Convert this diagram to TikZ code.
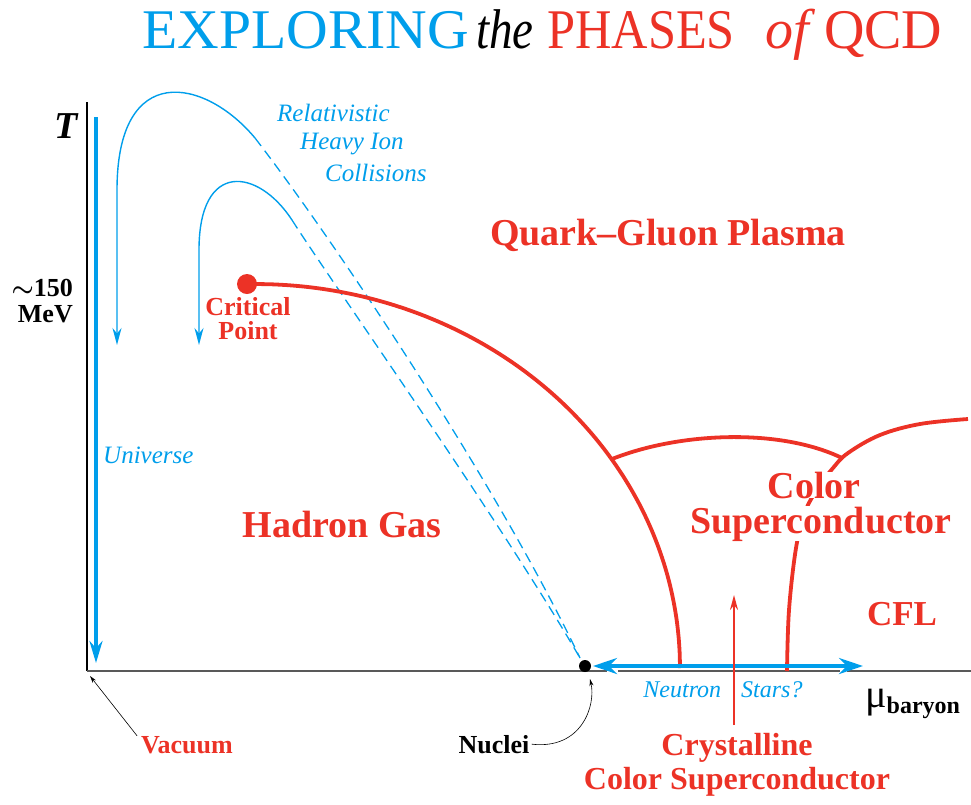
\documentclass[tikz,border=0pt]{standalone}
\usepackage{fontspec}
\setmainfont{Liberation Serif}
\usepackage{xcolor}
\usetikzlibrary{arrows.meta}
\definecolor{qcdred}{RGB}{236,50,38}
\definecolor{qcdblue}{RGB}{0,158,235}

\begin{document}
\begin{tikzpicture}[
x=1pt, y=-1pt,
traj/.style={qcdblue, line width=1.4pt},
trajdash/.style={qcdblue, line width=1.3pt, dash pattern=on 10pt off 6pt},
bound/.style={qcdred, line width=3.8pt},
phase/.style={qcdred, font=\fontsize{38}{38}\selectfont\bfseries, inner sep=0pt},
small/.style={font=\fontsize{26}{26}\selectfont\bfseries, inner sep=0pt},
blab/.style={qcdblue, font=\fontsize{25}{25}\selectfont\itshape, inner sep=0pt},
head/.style={font=\fontsize{56}{56}\selectfont, anchor=base west, inner sep=0pt},
arrow/.style={-{Stealth[length=17pt, width=9pt]}},
pointer/.style={-{Stealth[length=7pt, width=4pt]}, black, line width=0.6pt}
]
\useasboundingbox (0,0) rectangle (971,804);

% title
\node[head, qcdblue] (tw1) at (142,48) {\scalebox{1.03}[1]{EXPLORING}};
\node[head, font=\fontsize{56}{56}\selectfont\itshape] (tw2) at (476,48) {\scalebox{0.84}[1]{the}};
\node[head, qcdred] (tw3) at (547,48) {\scalebox{0.9}[1]{PHASES}};
\node[head, qcdred, font=\fontsize{56}{56}\selectfont\itshape] (tw4) at (765,48) {of};
\node[head, qcdred] (tw5) at (824,48) {QCD};

% axes
\coordinate (origin) at (87,671);
\coordinate (ttop) at (87,102);
\coordinate (mend) at (971,671);
\draw[line width=1.2pt] (ttop) -- (origin);
\draw[black!65, line width=2.6pt] (origin) -- (607,671) (618,671) -- (840,671) (847,671) -- (mend);
\node[font=\fontsize{38}{38}\selectfont\bfseries\itshape, anchor=base east, inner sep=0pt] (tlab) at (78,138) {T};
\node[small, anchor=base east] (tc) at (73,296) {{\boldmath$\sim$}150};
\node[small, anchor=base east] (mev) at (73,322) {MeV};
\node[anchor=base west, inner sep=0pt] (mub) at (865,707)
  {\fontsize{40}{40}\selectfont μ\raisebox{-6pt}{\fontsize{24}{24}\selectfont\bfseries baryon}};

% early universe
\coordinate (utop) at (96,117);
\coordinate (ubot) at (96,663);
\draw[qcdblue, line width=4pt, -{Stealth[length=22pt, width=13pt]}] (utop) -- (ubot);
\node[blab, anchor=base west] (univ) at (103,463) {Universe};

% heavy ion trajectories
\coordinate (nucend) at (580,658);
\coordinate (outa) at (255,138);
\coordinate (ina) at (292,220);
\draw[traj, arrow] (outa) .. controls (205,78) and (117,60) .. (117,190) -- (117,345);
\draw[trajdash] (outa) .. controls (330,235) and (495,480) .. (nucend);
\draw[traj, arrow] (ina) .. controls (258,168) and (199,160) .. (199,250) -- (199,345);
\draw[trajdash] (ina) .. controls (330,280) and (500,520) .. (nucend);
\node[blab, anchor=base west] (rhic1) at (277,121) {Relativistic};
\node[blab, anchor=base west] (rhic2) at (300,149) {Heavy Ion};
\node[blab, anchor=base west] (rhic3) at (325,181) {Collisions};

% phase boundaries
\draw[bound] plot[domain=90:0, samples=40, smooth] ({255+425*cos(\x)}, {668-384*sin(\x)});
\draw[bound] (612,459) .. controls (680,432) and (780,428) .. (842,458);
\draw[bound] plot[smooth, tension=0.6] coordinates {(787,671) (789,610) (796,548) (805,512) (818,488) (833,468) (848,453) (880,435) (920,424) (968,419)};
\node[circle, fill=qcdred, inner sep=0pt, minimum size=20pt] (critdot) at (247,284) {};
\node[small, qcdred, anchor=base, text depth=0pt] (crit1) at (248,315) {Critical};
\node[small, qcdred, anchor=base, text height=18pt] (crit2) at (248,339) {Point};

% phases
\node[phase, anchor=base] (qgp) at (668,245) {Quark\textendash Gluon Plasma};
\node[phase, anchor=base] (hadron) at (342,537) {Hadron Gas};
\node[phase, anchor=base, fill=white, text depth=0pt] (csc1) at (814,498) {Color};
\node[phase, anchor=base, fill=white, text height=27pt] (csc2) at (821,533) {Superconductor};
\node[phase, font=\fontsize{35}{35}\selectfont\bfseries, anchor=base] (cfl) at (902,625) {CFL};

% neutron stars
\coordinate (nsl) at (593,666);
\coordinate (nsr) at (863,666);
\draw[qcdblue, line width=4pt, {Stealth[length=24pt, width=16pt]}-{Stealth[length=24pt, width=16pt]}] (nsl) -- (nsr);
\node[blab, font=\fontsize{24}{24}\selectfont\itshape, anchor=base] (ns) at (723,697) {Neutron\hspace{20pt}Stars?};
\coordinate (crysttip) at (734,595);
\node[phase, font=\fontsize{32}{32}\selectfont\bfseries, anchor=base] (cryst1) at (737,755) {Crystalline};
\node[phase, font=\fontsize{32}{32}\selectfont\bfseries, anchor=base] (cryst2) at (737,789) {Color Superconductor};
\draw[qcdred, line width=2pt, -{Stealth[length=15pt, width=8pt]}] (734,725) -- (crysttip);

% nuclei and vacuum
\node[circle, fill=black, inner sep=0pt, minimum size=12pt] (nucdot) at (585,666) {};
\node[small, anchor=base] (nuc) at (494,753) {Nuclei};
\coordinate (nucpt) at (590,679);
\draw[pointer] ([xshift=2pt]nuc.east) .. controls (582,750) and (596,705) .. (nucpt);
\node[small, qcdred, anchor=base] (vac) at (187,753) {Vacuum};
\coordinate (vacpt) at (90,676);
\draw[pointer] ([xshift=-4pt]vac.north west) -- (vacpt);
\end{tikzpicture}
\end{document}
